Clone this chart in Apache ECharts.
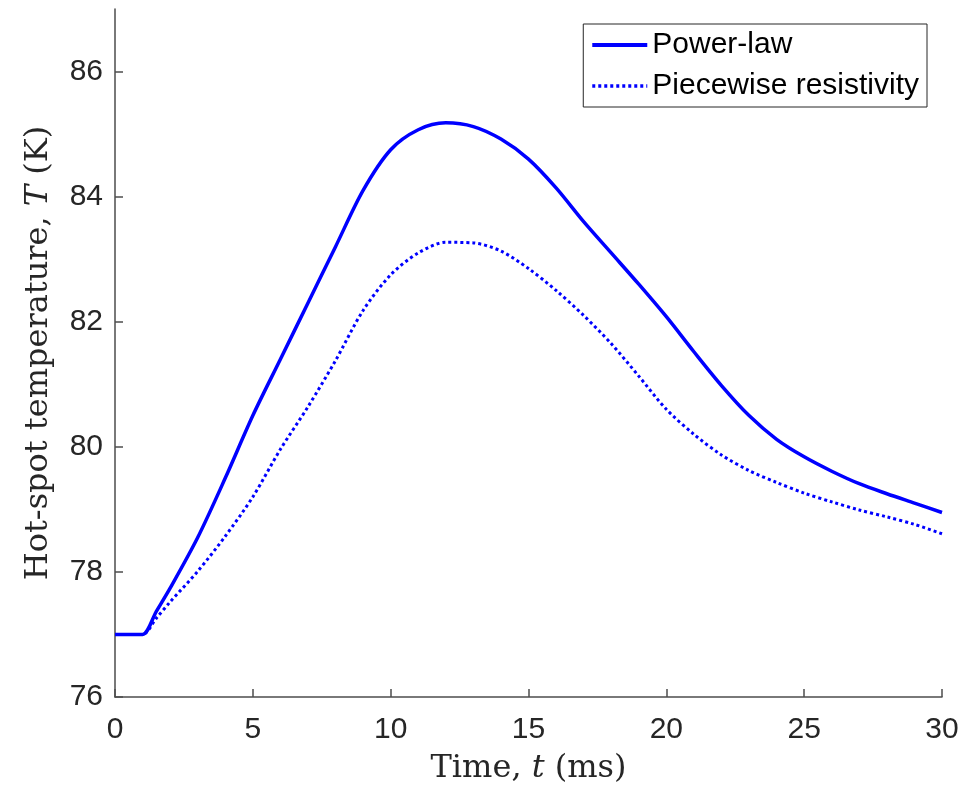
<!DOCTYPE html>
<html>
<head>
<meta charset="utf-8">
<script src="https://cdn.jsdelivr.net/npm/echarts@6/dist/echarts.min.js"></script>
<style>
  html, body { margin: 0; padding: 0; background: #fff; }
  #chart { width: 969px; height: 795px; }
</style>
</head>
<body>
<div id="chart"></div>
<script>
// time (ms) and hot-spot temperature (K)
var timeMs = [0, 0.5, 1, 1.5, 2, 3, 4, 5, 6, 7, 8, 9, 10, 11, 12, 13, 14, 15, 16, 17, 18, 19, 20, 21, 22, 23, 24, 25, 26, 27, 28, 29, 30];
var tempPower = [77.0, 77.0, 77.0, 77.37, 77.74, 78.55, 79.5, 80.5, 81.4, 82.3, 83.2, 84.1, 84.75, 85.07, 85.18, 85.12, 84.92, 84.6, 84.14, 83.6, 83.1, 82.6, 82.08, 81.52, 80.98, 80.5, 80.12, 79.84, 79.61, 79.41, 79.25, 79.1, 78.95];
var tempPiece = [77.0, 77.0, 77.0, 77.26, 77.52, 78.01, 78.57, 79.2, 79.96, 80.64, 81.38, 82.18, 82.75, 83.1, 83.27, 83.26, 83.13, 82.85, 82.5, 82.1, 81.65, 81.13, 80.6, 80.2, 79.87, 79.62, 79.43, 79.26, 79.12, 78.99, 78.88, 78.76, 78.61];

var seriesNames = ["Power-law", "Piecewise resistivity"];
var yTicks = [76, 78, 80, 82, 84, 86];

function pairs(xs, ys) {
  return xs.map(function (x, i) { return [x, ys[i]]; });
}

var axisColor = "#4d4d4d";
var textColor = "#262626";
var serifRich = {
  n: { fontFamily: "DejaVu Serif", fontSize: 32, color: textColor },
  i: { fontFamily: "DejaVu Serif", fontStyle: "italic", fontSize: 32, color: textColor }
};

var chart = echarts.init(document.getElementById("chart"));
chart.setOption({
  animation: false,
  backgroundColor: "#fff",
  grid: { left: 115, right: 27, top: 9, bottom: 98, containLabel: false },
  legend: {
    orient: "vertical",
    right: 42,
    top: 24,
    padding: [6, 8, 6, 7],
    itemGap: 11,
    itemWidth: 55,
    itemHeight: 14,
    borderColor: textColor,
    borderWidth: 1,
    backgroundColor: "#fff",
    itemStyle: { opacity: 0 },
    textStyle: { fontFamily: "Liberation Sans", fontSize: 30, color: "#000" },
    data: [
      { name: seriesNames[0], lineStyle: { width: 4 } },
      { name: seriesNames[1], lineStyle: { width: 3.5 } }
    ]
  },
  xAxis: {
    type: "value",
    min: 0,
    max: 30,
    interval: 5,
    name: "{n|Time, }{i|t}{n| (ms)}",
    nameLocation: "middle",
    nameGap: 56,
    nameTextStyle: { rich: serifRich },
    axisLine: { show: true, lineStyle: { color: axisColor, width: 1.5 } },
    axisTick: { show: true, inside: true, length: 8, lineStyle: { color: axisColor, width: 1.5 } },
    splitLine: { show: false },
    axisLabel: {
      fontFamily: "Liberation Sans",
      fontSize: 30,
      color: textColor,
      margin: 18
    }
  },
  yAxis: {
    type: "value",
    min: 76,
    max: 87,
    interval: 1,
    name: "{n|Hot-spot temperature, }{i|T}{n| (K)}",
    nameLocation: "middle",
    nameGap: 60,
    nameTextStyle: { rich: serifRich },
    axisLine: { show: true, lineStyle: { color: axisColor, width: 1.5 } },
    axisTick: {
      show: true,
      inside: true,
      length: 8,
      lineStyle: { color: axisColor, width: 1.5 },
      customValues: yTicks
    },
    splitLine: { show: false },
    axisLabel: {
      fontFamily: "Liberation Sans",
      fontSize: 30,
      color: textColor,
      margin: 12,
      customValues: yTicks
    }
  },
  series: [
    {
      name: seriesNames[0],
      type: "line",
      data: pairs(timeMs, tempPower),
      symbol: "none",
      smooth: 0.3,
      lineStyle: { color: "#0000ff", width: 3.5 },
      itemStyle: { color: "#0000ff" }
    },
    {
      name: seriesNames[1],
      type: "line",
      data: pairs(timeMs, tempPiece),
      symbol: "none",
      smooth: 0.3,
      lineStyle: { color: "#0000ff", width: 3, type: [3, 3] },
      itemStyle: { color: "#0000ff" }
    }
  ]
});
</script>
</body>
</html>
